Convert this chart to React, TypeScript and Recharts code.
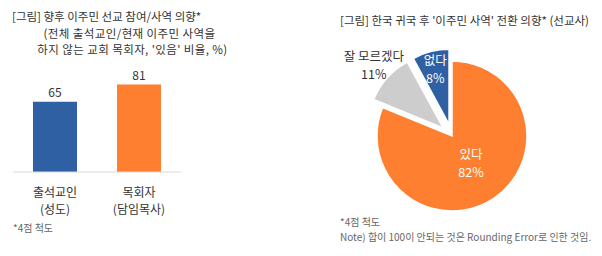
import React from "react";
import { BarChart, Bar, XAxis, YAxis, LabelList, PieChart, Pie, Cell } from "recharts";

const barCategories = ["출석교인", "목회자"];
const barSubLabels = ["(성도)", "(담임목사)"];
const barValues = [65, 81];

const pieNames = ["있다", "잘 모르겠다", "없다"];
const pieValues = [82, 11, 8];

const leftTitle = [
  "[그림] 향후 이주민 선교 참여/사역 의향*",
  "(전체 출석교인/현재 이주민 사역을",
  "하지 않는 교회 목회자, '있음' 비율, %)",
];
const rightTitle = "[그림] 한국 귀국 후 '이주민 사역' 전환 의향* (선교사)";
const leftNote = "*4점 척도";
const rightNotes = ["*4점 척도", "Note) 합이 100이 안되는 것은 Rounding Error로 인한 것임."];

const FONT = "'Noto Sans CJK KR', 'Noto Sans', sans-serif";
const BAR_COLORS = ["#2f60a4", "#fd7f2f"];
const PIE_COLORS = ["#fd7f2f", "#cdcdcd", "#2f60a4"];
const PIE_LABEL_COLORS = ["#ffffff", "#333333", "#ffffff"];
const PIE_LABEL_RADIUS = [34, 93, 56];
const EXPLODE = [0, 12, 12];
const RADIAN = Math.PI / 180;

const barData = barCategories.map((c, i) => ({ name: c, sub: barSubLabels[i], value: barValues[i] }));
const pieData = pieNames.map((n, i) => ({ name: n, value: pieValues[i] }));

// mid angle of each slice (clockwise from 12 o'clock)
const total = pieValues.reduce((a, b) => a + b, 0);
const midAngles: number[] = [];
let acc = 0;
pieValues.forEach((v) => {
  midAngles.push(90 - ((acc + v / 2) / total) * 360);
  acc += v;
});

const CX = 147;
const CY = 131;

const BarTick = (props: any) => {
  const { x, y, payload } = props;
  const d = barData[payload.index];
  return (
    <g>
      <text x={x} y={y + 17} textAnchor="middle" fill="#333" fontSize={12} fontFamily={FONT}>
        {d.name}
      </text>
      <text x={x} y={y + 34} textAnchor="middle" fill="#333" fontSize={12} fontFamily={FONT}>
        {d.sub}
      </text>
    </g>
  );
};

const makeLabel = (slice: number) => (props: any) => {
  const { cx, cy, midAngle, index } = props;
  if (index !== slice) return null;
  const r = PIE_LABEL_RADIUS[slice];
  const x = cx + r * Math.cos(-midAngle * RADIAN);
  const y = cy + r * Math.sin(-midAngle * RADIAN);
  const d = pieData[slice];
  return (
    <g>
      <text x={x} y={y - 5} textAnchor="middle" fill={PIE_LABEL_COLORS[slice]} fontSize={12.5} fontFamily={FONT}>
        {d.name}
      </text>
      <text x={x} y={y + 13} textAnchor="middle" fill={PIE_LABEL_COLORS[slice]} fontSize={12.5} fontFamily={FONT}>
        {d.value}%
      </text>
    </g>
  );
};

const textStyle: React.CSSProperties = {
  position: "absolute",
  fontFamily: FONT,
  color: "#333",
  whiteSpace: "nowrap",
  lineHeight: "16px",
};

export default function App() {
  return (
    <div style={{ position: "absolute", left: 0, top: 0, width: 602, height: 256, background: "#fff", overflow: "hidden" }}>
      <div style={{ ...textStyle, left: 12, top: 8, fontSize: 11.5 }}>{leftTitle[0]}</div>
      <div style={{ ...textStyle, left: 0, width: 259, top: 25, fontSize: 11.5, textAlign: "center", letterSpacing: 0.4 }}>{leftTitle[1]}</div>
      <div style={{ ...textStyle, left: 0, width: 265, top: 41, fontSize: 11.5, textAlign: "center", letterSpacing: 0.4 }}>{leftTitle[2]}</div>

      <div style={{ position: "absolute", left: 0, top: 0 }}>
        <BarChart width={200} height={222} data={barData} margin={{ top: 64, right: 19, left: 13, bottom: 0 }} barCategoryGap={20}>
          <XAxis dataKey="name" axisLine={{ stroke: "#d9d9d9" }} tickLine={false} height={50} tick={<BarTick />} interval={0} />
          <YAxis hide domain={[0, 100]} />
          <Bar dataKey="value" isAnimationActive={false}>
            {barData.map((_, i) => (
              <Cell key={i} fill={BAR_COLORS[i]} />
            ))}
            <LabelList dataKey="value" position="top" fill="#333" fontSize={12} fontFamily={FONT} />
          </Bar>
        </BarChart>
      </div>

      <div style={{ ...textStyle, left: 13, top: 220, fontSize: 10, color: "#666" }}>{leftNote}</div>

      <div style={{ ...textStyle, left: 340, top: 12, fontSize: 11.5 }}>{rightTitle}</div>

      <div style={{ position: "absolute", left: 300, top: 0 }}>
        <PieChart width={302} height={256}>
          {[0, 1, 2].map((s) => (
            <Pie
              key={s}
              data={pieData}
              dataKey="value"
              nameKey="name"
              cx={CX + EXPLODE[s] * Math.cos(-midAngles[s] * RADIAN)}
              cy={CY + EXPLODE[s] * Math.sin(-midAngles[s] * RADIAN)}
              outerRadius={75}
              startAngle={90}
              endAngle={-270}
              isAnimationActive={false}
              labelLine={false}
              label={makeLabel(s)}
            >
              {pieData.map((_, i) => (
                <Cell
                  key={i}
                  fill={i === s ? PIE_COLORS[i] : "transparent"}
                  stroke={i === s ? "#fff" : "none"}
                  strokeWidth={1.5}
                />
              ))}
            </Pie>
          ))}
        </PieChart>
      </div>

      <div style={{ ...textStyle, left: 340, top: 214, fontSize: 10, color: "#666", lineHeight: "15px" }}>
        {rightNotes[0]}
        <br />
        {rightNotes[1]}
      </div>
    </div>
  );
}
